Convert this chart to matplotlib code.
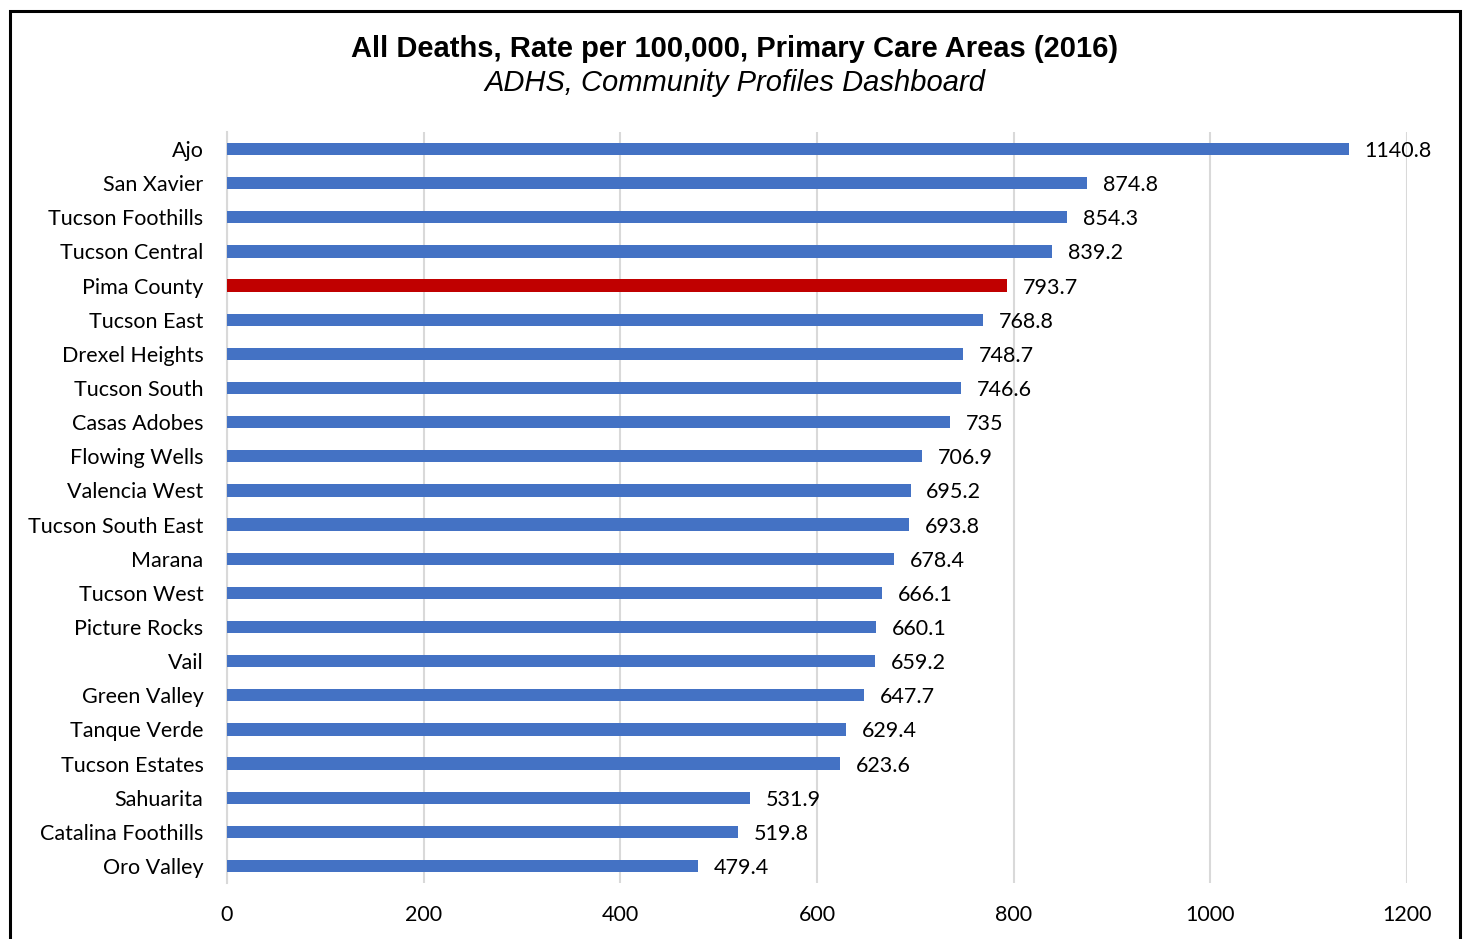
import matplotlib
matplotlib.use("Agg")
import matplotlib.pyplot as plt
from matplotlib.patches import Rectangle

areas = ["Ajo", "San Xavier", "Tucson Foothills", "Tucson Central", "Pima County",
         "Tucson East", "Drexel Heights", "Tucson South", "Casas Adobes", "Flowing Wells",
         "Valencia West", "Tucson South East", "Marana", "Tucson West", "Picture Rocks",
         "Vail", "Green Valley", "Tanque Verde", "Tucson Estates", "Sahuarita",
         "Catalina Foothills", "Oro Valley"]
rates = [1140.8, 874.8, 854.3, 839.2, 793.7, 768.8, 748.7, 746.6, 735, 706.9,
         695.2, 693.8, 678.4, 666.1, 660.1, 659.2, 647.7, 629.4, 623.6, 531.9,
         519.8, 479.4]
labels = ["1140.8", "874.8", "854.3", "839.2", "793.7", "768.8", "748.7", "746.6", "735",
          "706.9", "695.2", "693.8", "678.4", "666.1", "660.1", "659.2", "647.7", "629.4",
          "623.6", "531.9", "519.8", "479.4"]
xticks = [0, 200, 400, 600, 800, 1000, 1200]

W, H = 1467, 939
fig = plt.figure(figsize=(W / 100, H / 100), dpi=100)
ax = fig.add_axes([227 / W, 1 - 883 / H, (1407 - 227) / W, (883 - 132) / H])

colors = ["#C00000" if a == "Pima County" else "#4472C4" for a in areas]
ypos = list(range(len(areas)))
ax.barh(ypos, rates, height=0.36, color=colors, zorder=3)
ax.set_ylim(len(areas) - 0.5, -0.5)
ax.set_xlim(0, 1200)
ax.set_xticks(xticks)
ax.set_xticklabels([str(t) for t in xticks])
ax.set_yticks(ypos)
ax.set_yticklabels(areas)
lab_font = "Lato"
for lbl in ax.get_yticklabels() + ax.get_xticklabels():
    lbl.set_fontfamily(lab_font)
    lbl.set_fontsize(15.5)
    lbl.set_color("#000000")
for lbl in ax.get_yticklabels():
    lbl.set_verticalalignment("center_baseline")
ax.tick_params(axis="both", length=0)
ax.tick_params(axis="y", pad=17)
ax.tick_params(axis="x", pad=16)
ax.grid(axis="x", color="#D9D9D9", linewidth=1.5, zorder=0)
for s in ["top", "right", "bottom"]:
    ax.spines[s].set_visible(False)
ax.spines["left"].set_color("#D9D9D9")
ax.spines["left"].set_linewidth(1.5)

for y, v, t in zip(ypos, rates, labels):
    ax.text(v + 16, y, t, va="center_baseline", ha="left", fontsize=15.5,
            fontfamily=lab_font, zorder=4)

fig.text(735 / W, 1 - 49 / H, "All Deaths, Rate per 100,000, Primary Care Areas (2016)",
         ha="center", va="center", fontsize=21, fontweight="bold", fontfamily="Liberation Sans")
fig.text(735 / W, 1 - 83 / H, "ADHS, Community Profiles Dashboard",
         ha="center", va="center", fontsize=21, fontstyle="italic", fontfamily="Liberation Sans")

fig.patches.append(Rectangle((10 / W, -0.05), (1460 - 10) / W, 1.05 - 11 / H,
                             transform=fig.transFigure, fill=False, edgecolor="black",
                             linewidth=2.2))

fig.savefig("out.png", dpi=100)
